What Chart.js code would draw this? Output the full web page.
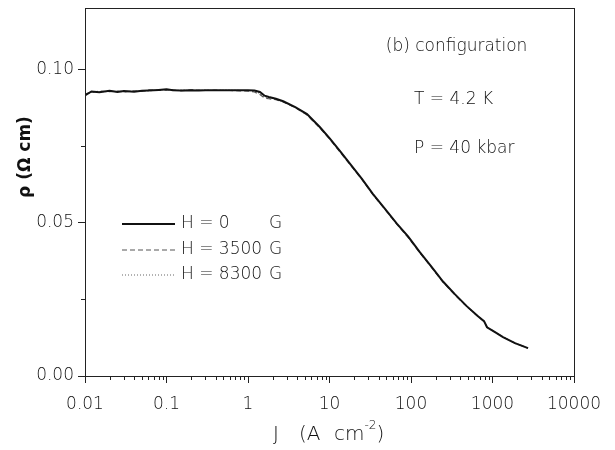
<!DOCTYPE html>
<html lang="en">
<head>
    <meta charset="UTF-8">
    <title>Resistivity vs current density</title>
    <script src="https://cdn.jsdelivr.net/npm/chart.js"></script>
    <style>
        body { margin: 0; background: #ffffff; }
        #chart { display: block; }
    </style>
</head>
<body>
    <canvas id="chart" width="615" height="450"></canvas>

    <script>
        // current density J (A cm^-2)
        const jValues = [0.01, 0.012, 0.015, 0.02, 0.025, 0.03, 0.04, 0.05, 0.06, 0.08,
            0.1, 0.12, 0.15, 0.2, 0.25, 0.3, 0.4, 0.5, 0.6, 0.8,
            1.0, 1.2, 1.4, 1.6, 1.8, 2.2, 2.7, 3.8, 5.3, 7.6,
            10, 13.4, 17.9, 25, 34, 48, 67, 92, 129, 181,
            247, 347, 486, 664, 787, 857, 1074, 1345, 1888, 2728];

        // resistivity (Ohm cm) for each field
        const rhoH0 = [0.0915, 0.0928, 0.0925, 0.0930, 0.0926, 0.0929, 0.0927, 0.0930, 0.0931, 0.0933,
            0.0935, 0.0932, 0.0931, 0.0932, 0.0931, 0.0932, 0.0932, 0.0932, 0.0932, 0.0932,
            0.0932, 0.0931, 0.0926, 0.0914, 0.0910, 0.0904, 0.0896, 0.0877, 0.0854, 0.0812,
            0.0776, 0.0734, 0.0692, 0.0643, 0.0594, 0.0545, 0.0497, 0.0455, 0.0403, 0.0354,
            0.0308, 0.0266, 0.0227, 0.0195, 0.0179, 0.0159, 0.0143, 0.0127, 0.0107, 0.0091];
        const rhoH3500 = [0.0920, 0.0925, 0.0929, 0.0927, 0.0929, 0.0926, 0.0930, 0.0928, 0.0933, 0.0931,
            0.0932, 0.0934, 0.0930, 0.0933, 0.0932, 0.0931, 0.0932, 0.0931, 0.0931, 0.0930,
            0.0929, 0.0926, 0.0918, 0.0906, 0.0904, 0.0901, 0.0894, 0.0875, 0.0851, 0.0809,
            0.0773, 0.0731, 0.0689, 0.0641, 0.0592, 0.0543, 0.0495, 0.0452, 0.0401, 0.0352,
            0.0306, 0.0264, 0.0226, 0.0194, 0.0178, 0.0159, 0.0143, 0.0127, 0.0107, 0.0091];
        const rhoH8300 = [0.0918, 0.0926, 0.0927, 0.0928, 0.0928, 0.0928, 0.0929, 0.0929, 0.0930, 0.0932,
            0.0933, 0.0933, 0.0932, 0.0931, 0.0932, 0.0932, 0.0931, 0.0932, 0.0932, 0.0931,
            0.0931, 0.0929, 0.0922, 0.0910, 0.0907, 0.0903, 0.0895, 0.0876, 0.0852, 0.0810,
            0.0775, 0.0733, 0.0691, 0.0642, 0.0593, 0.0544, 0.0496, 0.0454, 0.0402, 0.0353,
            0.0307, 0.0265, 0.0226, 0.0195, 0.0179, 0.0159, 0.0143, 0.0127, 0.0107, 0.0091];

        const seriesLabels = ['H = 0', 'H = 3500', 'H = 8300'];
        const xTickValues = [0.01, 0.1, 1, 10, 100, 1000, 10000];
        const yTickValues = [0, 0.05, 0.10];
        const yMinorValues = [0.025, 0.075];

        const FONT = "'DejaVu Sans', 'Liberation Sans', sans-serif";
        const INK = '#111';

        function toPoints(ys) {
            return jValues.map((j, i) => ({ x: j, y: ys[i] }));
        }

        const datasets = [
            { label: seriesLabels[0], data: toPoints(rhoH0), borderColor: '#111', borderWidth: 2, borderDash: [] },
            { label: seriesLabels[1], data: toPoints(rhoH3500), borderColor: '#555', borderWidth: 1.2, borderDash: [5, 3] },
            { label: seriesLabels[2], data: toPoints(rhoH8300), borderColor: '#666', borderWidth: 1.2, borderDash: [1, 2] }
        ];
        datasets.forEach(d => { d.pointRadius = 0; d.fill = false; d.tension = 0; });

        // frame, minor ticks, legend, labels
        const decorations = {
            id: 'decorations',
            afterDatasetsDraw(chart) {
                const ctx = chart.ctx;
                const a = chart.chartArea;
                const xs = chart.scales.x;
                const ys = chart.scales.y;
                ctx.save();
                ctx.strokeStyle = '#222';
                ctx.lineWidth = 1;

                // box
                ctx.strokeRect(a.left + 0.5, a.top + 0.5, a.right - a.left, a.bottom - a.top);

                // minor ticks
                ctx.beginPath();
                for (let d = -2; d <= 3; d++) {
                    for (let m = 2; m <= 9; m++) {
                        const px = Math.round(xs.getPixelForValue(m * Math.pow(10, d))) + 0.5;
                        ctx.moveTo(px, a.bottom);
                        ctx.lineTo(px, a.bottom + 4);
                    }
                }
                yMinorValues.forEach(v => {
                    const py = Math.round(ys.getPixelForValue(v)) + 0.5;
                    ctx.moveTo(a.left - 4, py);
                    ctx.lineTo(a.left, py);
                });
                ctx.stroke();

                // legend
                ctx.font = '300 17px ' + FONT;
                ctx.fillStyle = INK;
                ctx.textBaseline = 'middle';
                const legendRows = [224, 250, 275];
                chart.data.datasets.forEach((ds, i) => {
                    const y = legendRows[i];
                    ctx.save();
                    ctx.strokeStyle = ds.borderColor;
                    ctx.lineWidth = ds.borderWidth;
                    ctx.setLineDash(ds.borderDash);
                    ctx.beginPath();
                    ctx.moveTo(122, y);
                    ctx.lineTo(175, y);
                    ctx.stroke();
                    ctx.restore();
                    ctx.textAlign = 'left';
                    ctx.fillText(ds.label, 181, y);
                    ctx.fillText('G', 269, y);
                });

                // annotations
                ctx.textAlign = 'left';
                ctx.fillText('(b) configuration', xs.getPixelForValue(49), ys.getPixelForValue(0.1075));
                ctx.fillText('T = 4.2 K', xs.getPixelForValue(109), ys.getPixelForValue(0.0903));
                ctx.fillText('P = 40 kbar', xs.getPixelForValue(109), ys.getPixelForValue(0.0740));

                // x title
                const ty = 435;
                ctx.font = '300 20px ' + FONT;
                ctx.fillText('J', 273, ty);
                ctx.fillText('(A', 299, ty);
                ctx.fillText('cm', 334, ty);
                let tx = 334 + ctx.measureText('cm').width;
                ctx.font = '300 12px ' + FONT;
                ctx.fillText('-2', tx, ty - 9);
                tx += ctx.measureText('-2').width;
                ctx.font = '300 20px ' + FONT;
                ctx.fillText(')', tx, ty);

                // y title
                ctx.translate(26, 157);
                ctx.rotate(-Math.PI / 2);
                ctx.textAlign = 'center';
                ctx.font = 'bold 17px ' + FONT;
                ctx.fillText('\u03c1 (\u03a9 cm)', 0, 0);

                ctx.restore();
            }
        };

        new Chart(document.getElementById('chart').getContext('2d'), {
            type: 'line',
            data: { datasets: datasets },
            options: {
                responsive: false,
                animation: false,
                devicePixelRatio: 1,
                layout: { padding: { top: 8, right: 41, left: 0, bottom: 0 } },
                plugins: {
                    legend: { display: false },
                    tooltip: { enabled: false }
                },
                scales: {
                    x: {
                        type: 'logarithmic',
                        min: 0.01,
                        max: 10000,
                        afterBuildTicks: scale => { scale.ticks = xTickValues.map(v => ({ value: v })); },
                        afterFit: scale => {
                            scale.height = 74;
                            scale.paddingLeft = 0;
                            scale.paddingRight = 0;
                        },
                        ticks: {
                            autoSkip: false,
                            maxRotation: 0,
                            padding: 11,
                            color: INK,
                            font: { family: FONT, size: 17, weight: 300 },
                            callback: v => String(v)
                        },
                        grid: { drawOnChartArea: false, tickLength: 7, color: '#222' },
                        border: { display: true, color: '#222' }
                    },
                    y: {
                        min: 0,
                        max: 0.12,
                        afterBuildTicks: scale => { scale.ticks = yTickValues.map(v => ({ value: v })); },
                        afterFit: scale => {
                            scale.width = 85;
                            scale.paddingTop = 0;
                            scale.paddingBottom = 0;
                        },
                        ticks: {
                            padding: 4,
                            color: INK,
                            font: { family: FONT, size: 17, weight: 300 },
                            callback: v => v.toFixed(2)
                        },
                        grid: { drawOnChartArea: false, tickLength: 7, color: '#222' },
                        border: { display: true, color: '#222' }
                    }
                }
            },
            plugins: [decorations]
        });
    </script>
</body>
</html>
